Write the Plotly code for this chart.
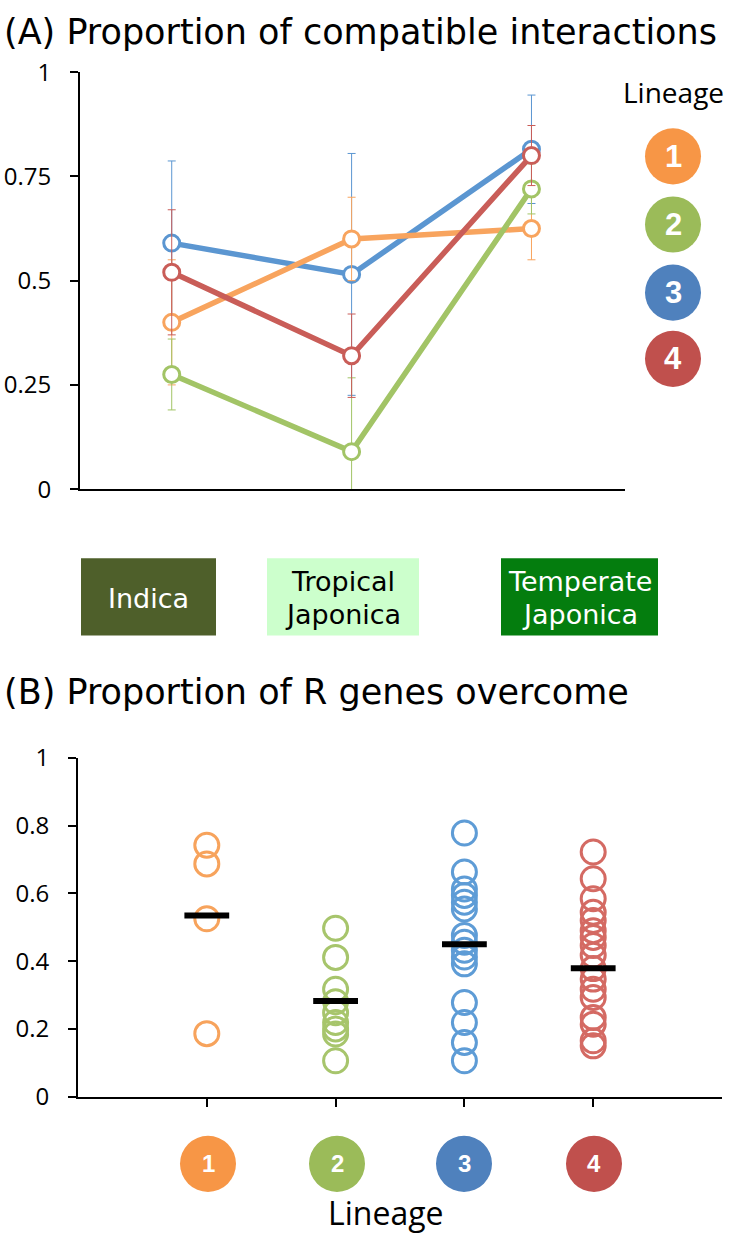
import plotly.graph_objects as go

W, H = 733, 1248

# ---------------- Data ----------------
groups = ["Indica", "Tropical Japonica", "Temperate Japonica"]
lineages = ["1", "2", "3", "4"]

# Panel A: proportion of compatible interactions (mean and error)
a_l1 = [0.40, 0.60, 0.625]
a_l2 = [0.275, 0.09, 0.72]
a_l3 = [0.59, 0.515, 0.815]
a_l4 = [0.52, 0.32, 0.80]
a_err_l1 = [0.15, 0.10, 0.075]
a_err_l2 = [0.085, 0.177, 0.06]
a_err_l3 = [0.197, 0.29, 0.13]
a_err_l4 = [0.15, 0.10, 0.072]

# Panel B: proportion of R genes overcome, one value per isolate
b_l1 = [0.742, 0.687, 0.525, 0.186]
b_l2 = [0.497, 0.411, 0.317, 0.28, 0.248, 0.219, 0.20, 0.185, 0.106]
b_l3 = [0.778, 0.663, 0.613, 0.594, 0.574, 0.554, 0.476, 0.456, 0.432,
        0.412, 0.392, 0.278, 0.219, 0.16, 0.106]
b_l4 = [0.722, 0.643, 0.584, 0.544, 0.52, 0.49, 0.47, 0.446, 0.417, 0.378,
        0.347, 0.317, 0.293, 0.234, 0.214, 0.165, 0.15]
b_means = [0.535, 0.282, 0.45, 0.379]

a_ticks = [0, 0.25, 0.5, 0.75, 1]
a_ticklabels = ["0", "0.25", "0.5", "0.75", "1"]
b_ticks = [0, 0.2, 0.4, 0.6, 0.8, 1]
b_ticklabels = ["0", "0.2", "0.4", "0.6", "0.8", "1"]

# ---------------- Styles ----------------
line_cols = ["#F8A45E", "#A2C466", "#5B96D1", "#C95D58"]
dot_cols = ["#F7A35C", "#A7C56C", "#5E9CD6", "#D46A63"]
badge_cols = ["#F79646", "#9BBB59", "#4F81BD", "#C0504D"]
box_cols = ["#4E5F2A", "#CCFFCC", "#047D0E"]
box_text_cols = ["white", "black", "white"]

FONT = "Open Sans"
TFONT = "DejaVu Sans"

# the photographed page is squeezed vertically into rows 18..1230
TOP_PAD = 18.0
SQUASH = 1212.0 / 1248.0


def px(x):
    return x / W


def py(y):
    """target picture row -> paper fraction"""
    code = (y - TOP_PAD) / SQUASH
    return 1 - code / H


fig = go.Figure()

a_vals = [a_l1, a_l2, a_l3, a_l4]
a_errs = [a_err_l1, a_err_l2, a_err_l3, a_err_l4]
for i in [2, 0, 1, 3]:
    fig.add_trace(go.Scatter(
        x=[0, 1, 2], y=a_vals[i], mode="lines+markers",
        line=dict(color=line_cols[i], width=5.5),
        marker=dict(symbol="circle", size=16, color="white",
                    line=dict(color=line_cols[i], width=3)),
        error_y=dict(type="data", array=a_errs[i], color=line_cols[i],
                     thickness=1, width=4),
        xaxis="x", yaxis="y", showlegend=False, hoverinfo="skip"))

b_vals = [b_l1, b_l2, b_l3, b_l4]
for i, vals in enumerate(b_vals):
    fig.add_trace(go.Scatter(
        x=[i + 1] * len(vals), y=vals, mode="markers",
        marker=dict(symbol="circle-open", size=24,
                    line=dict(color=dot_cols[i], width=3), color=dot_cols[i]),
        xaxis="x2", yaxis="y2", showlegend=False, hoverinfo="skip"))

fig.add_trace(go.Scatter(
    x=[1, 2, 3, 4], y=b_means, mode="markers",
    marker=dict(symbol="line-ew", size=32, line=dict(color="black", width=6)),
    xaxis="x2", yaxis="y2", showlegend=False, hoverinfo="skip"))

axis_common = dict(showgrid=False, zeroline=False, showline=True,
                   linecolor="black", linewidth=2)
tick_common = dict(ticks="outside", ticklen=8, tickwidth=2, tickcolor="black",
                   ticklabelstandoff=14,
                   tickfont=dict(family=FONT, size=24, color="black"))

fig.update_layout(
    width=W, height=H, margin=dict(l=0, r=0, t=0, b=0),
    paper_bgcolor="white", plot_bgcolor="white",
    xaxis=dict(domain=[px(80), px(625)], range=[-0.51, 2.52],
               showticklabels=False, ticks="", anchor="y", **axis_common),
    yaxis=dict(domain=[py(488), py(72)], range=[0, 1], anchor="x",
               tickvals=a_ticks, ticktext=a_ticklabels,
               **tick_common, **axis_common),
    xaxis2=dict(domain=[px(78), px(722)], range=[0, 5], anchor="y2",
                tickvals=[1, 2, 3, 4], showticklabels=False,
                ticks="outside", ticklen=8, tickwidth=2, tickcolor="black",
                **axis_common),
    yaxis2=dict(domain=[py(1094), py(756)], range=[0, 1], anchor="x2",
                tickvals=b_ticks, ticktext=b_ticklabels,
                **tick_common, **axis_common),
)

shapes = []
annotations = []


def text(x, y, s, size, color="black", family=FONT, xanchor="center",
         yanchor="middle", yp=None):
    annotations.append(dict(x=px(x), y=py(y) if yp is None else yp,
                            xref="paper", yref="paper",
                            text=s, showarrow=False, xanchor=xanchor,
                            yanchor=yanchor,
                            font=dict(family=family, size=size, color=color)))


# Titles (panel A title pushed as high as the page allows)
text(2, 0, "(A) Proportion of compatible interactions", 35,
     family=TFONT, xanchor="left", yanchor="top", yp=1.0 + 8.0 / H)
text(2, 690, "(B) Proportion of R genes overcome", 35,
     family=TFONT, xanchor="left")

# Category boxes below panel A
box_x = [(81, 216), (267, 419), (501, 658)]
box_lines = [["Indica"], ["Tropical", "Japonica"], ["Temperate", "Japonica"]]
for (x0, x1), c, tc, lines in zip(box_x, box_cols, box_text_cols, box_lines):
    shapes.append(dict(type="rect", xref="paper", yref="paper",
                       x0=px(x0), x1=px(x1), y0=py(634), y1=py(557),
                       fillcolor=c, line=dict(width=0), layer="below"))
    ys = [597] if len(lines) == 1 else [580, 613]
    for ln, yy in zip(lines, ys):
        text((x0 + x1) / 2, yy, ln, 27, color=tc, family=TFONT)

# Legend of panel A
text(673, 92, "Lineage", 28)


def badge(cx, cy, r, color, label, fs):
    shapes.append(dict(type="circle", xref="paper", yref="paper",
                       x0=px(cx - r), x1=px(cx + r),
                       y0=py(cy + r), y1=py(cy - r),
                       fillcolor=color, line=dict(width=0)))
    text(cx, cy, "<b>%s</b>" % label, fs, color="white",
         family="Liberation Sans")


legend_y = [156, 224, 292, 358]
for i, lab in enumerate(lineages):
    badge(673, legend_y[i], 28, badge_cols[i], lab, 31)

# Category badges below panel B
bottom_x = [208, 337, 464, 594]
for i, lab in enumerate(lineages):
    badge(bottom_x[i], 1161, 28, badge_cols[i], lab, 24)

text(386, 0, "Lineage", 32, yanchor="bottom", yp=-3.0 / H)

fig.update_layout(shapes=shapes, annotations=annotations)
fig.write_html("out.html", config={"displayModeBar": False},
               post_script="document.body.style.margin='0';"
                           "document.body.style.overflow='hidden';")
